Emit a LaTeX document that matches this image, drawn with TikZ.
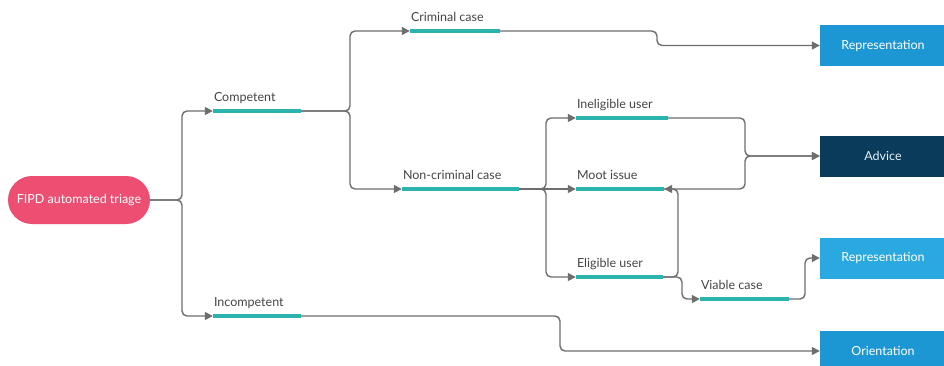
\documentclass[tikz,border=0pt]{standalone}
\usepackage{fontspec}
\setmainfont{Lato}
\usetikzlibrary{arrows.meta}
\definecolor{teal1}{HTML}{2BB3AE}
\definecolor{lgray}{HTML}{6E6E6E}
\definecolor{txtgray}{HTML}{454545}
\definecolor{pinkred}{HTML}{EC4F72}
\definecolor{blue1}{HTML}{1D97D3}
\definecolor{blue2}{HTML}{29A9E0}
\definecolor{navy}{HTML}{0B3B5B}
\begin{document}
\begin{tikzpicture}[x=1pt,y=-1pt,
  bar/.style={fill=teal1, draw=none, inner sep=0pt, minimum height=4pt},
  lbl/.style={anchor=base west, text=txtgray, font=\fontsize{12.5}{14}\selectfont, inner sep=0pt},
  outbox/.style={draw=none, inner sep=0pt, minimum width=126pt, minimum height=41pt, text=white, font=\fontsize{12.5}{14}\selectfont},
  conn/.style={draw=lgray, line width=1.4pt, rounded corners=5pt},
  arr/.style={conn, -{Triangle[length=8pt,width=8pt]}}
]
\useasboundingbox (0,0) rectangle (944,365);
\fill[white] (0,0) rectangle (944,365);

% start node
\node[fill=pinkred, rounded corners=24pt, minimum width=142pt, minimum height=48pt, inner sep=0pt,
      text=white, font=\fontsize{12.5}{14}\selectfont] (fipd) at (79,200) {FIPD automated triage};

% bars
\node[bar, minimum width=88pt] (comp) at (257,111) {};
\node[bar, minimum width=88pt] (incomp) at (257,316) {};
\node[bar, minimum width=90pt] (crim) at (455,31) {};
\node[bar, minimum width=117pt] (noncrim) at (460.5,189) {};
\node[bar, minimum width=92pt] (inelig) at (622,118) {};
\node[bar, minimum width=88pt] (moot) at (620,189) {};
\node[bar, minimum width=87pt] (elig) at (619.5,277) {};
\node[bar, minimum width=89pt] (viable) at (744.5,299) {};

% labels
\node[lbl] (lcomp) at ([xshift=1pt,yshift=7pt]comp.north west) {Competent};
\node[lbl] (lincomp) at ([xshift=1pt,yshift=7pt]incomp.north west) {Incompetent};
\node[lbl] (lcrim) at ([xshift=1pt,yshift=7pt]crim.north west) {Criminal case};
\node[lbl] (lnoncrim) at ([xshift=1pt,yshift=7pt]noncrim.north west) {Non-criminal case};
\node[lbl] (linelig) at ([xshift=1pt,yshift=7pt]inelig.north west) {Ineligible user};
\node[lbl] (lmoot) at ([xshift=1pt,yshift=7pt]moot.north west) {Moot issue};
\node[lbl] (lelig) at ([xshift=1pt,yshift=7pt]elig.north west) {Eligible user};
\node[lbl] (lviable) at ([xshift=1pt,yshift=7pt]viable.north west) {Viable case};

% output boxes
\node[outbox, fill=blue1] (rep1) at (883,45.5) {Representation};
\node[outbox, fill=navy, text=white!88!blue1] (advice) at (883,156) {Advice};
\node[outbox, fill=blue2] (rep2) at (883,258) {Representation};
\node[outbox, fill=blue1] (orient) at (883,351) {Orientation};

% junctions
\coordinate (j0) at (182,200);
\coordinate (j1) at (350,111);
\coordinate (j2) at (546,189);
\coordinate (j3) at (745,156);
\coordinate (j4) at (678,277);

% connectors
\draw[arr] (fipd.east) -- (j0) |- (comp.west);
\draw[arr] (fipd.east) -- (j0) |- (incomp.west);

\draw[arr] (comp.east) -- (j1) |- (crim.west);
\draw[arr] (comp.east) -- (j1) |- (noncrim.west);

\draw[arr] (crim.east) -- (657,31) -- (657,45.5) -- (rep1.west);

\draw[arr] (noncrim.east) -- (j2) |- (inelig.west);
\draw[arr] (noncrim.east) -- (moot.west);
\draw[arr] (noncrim.east) -- (j2) |- (elig.west);

\draw[arr] (inelig.east) -| (j3) -- (advice.west);
\draw[arr] (moot.east) -| (j3) -- (advice.west);

\draw[arr] (elig.east) -- (j4) |- (moot.east);
\draw[arr] (elig.east) -- (682,277) -- (682,299) -- (viable.west);

\draw[arr] (viable.east) -- (805,299) -- (805,258) -- (rep2.west);

\draw[arr] (incomp.east) -- (560,316) -- (560,351) -- (orient.west);

% redraw bars on top of connectors
\foreach \b in {comp,incomp,crim,noncrim,inelig,moot,elig,viable}{
  \fill[teal1] (\b.north west) rectangle (\b.south east);
}
\end{tikzpicture}
\end{document}
